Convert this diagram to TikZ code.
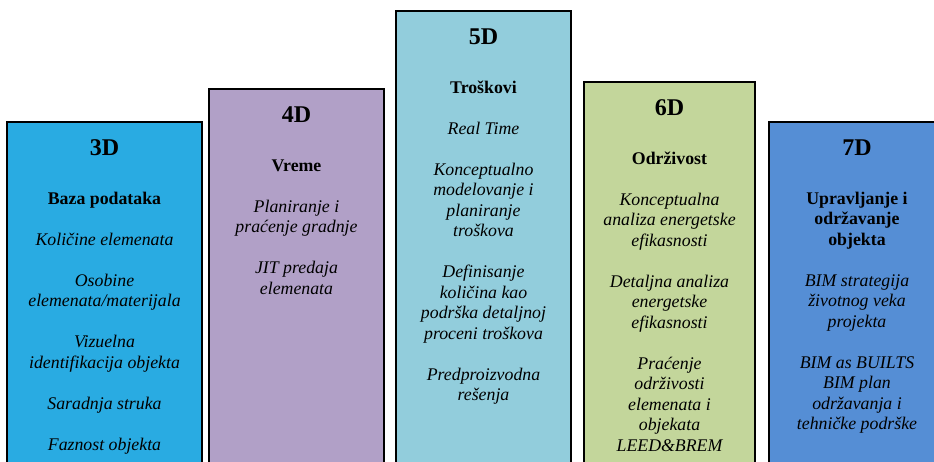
\documentclass[tikz,border=0pt]{standalone}
\usepackage{fontspec}
\setmainfont{Liberation Serif}
\definecolor{cthree}{HTML}{29ABE2}
\definecolor{cfour}{HTML}{B1A0C7}
\definecolor{cfive}{HTML}{92CDDC}
\definecolor{csix}{HTML}{C3D69B}
\definecolor{cseven}{HTML}{558ED5}
\newcommand{\gap}{\\[20.5pt]}
\begin{document}
\begin{tikzpicture}[x=1pt,y=-1pt,
  colbox/.style={draw=black,line width=1.3pt},
  hd/.style={anchor=base,inner sep=0pt,font=\fontsize{24}{28}\selectfont\bfseries},
  bd/.style={anchor=base,inner sep=0pt,font=\fontsize{17.8}{20.5}\selectfont}]
\clip (0,0) rectangle (934,461);
\fill[white] (0,0) rectangle (934,461);
% boxes
\path[colbox,fill=cthree] (7,122) rectangle (202,490);
\path[colbox,fill=cfour] (209,89) rectangle (384,490);
\path[colbox,fill=cfive] (396,11) rectangle (571,490);
\path[colbox,fill=csix] (584,82) rectangle (755,490);
\path[colbox,fill=cseven] (769,122) rectangle (945,490);
% 3D
\node[hd] (h3) at (104.5,155) {3D};
\node[bd] (b3) at (104.5,204) {\parbox[t]{190pt}{\centering
  \textbf{Baza podataka}\gap
  \itshape Količine elemenata\gap
  Osobine\\ elemenata/materijala\gap
  Vizuelna\\ identifikacija objekta\gap
  Saradnja struka\gap
  Faznost objekta}};
% 4D
\node[hd] (h4) at (296.5,122) {4D};
\node[bd] (b4) at (296.5,171) {\parbox[t]{170pt}{\centering
  \textbf{Vreme}\gap
  \itshape Planiranje i\\ praćenje gradnje\gap
  JIT predaja\\ elemenata}};
% 5D
\node[hd] (h5) at (483.5,44) {5D};
\node[bd] (b5) at (483.5,93) {\parbox[t]{170pt}{\centering
  \textbf{Troškovi}\gap
  \itshape Real Time\gap
  Konceptualno\\ modelovanje i\\ planiranje\\ troškova\gap
  Definisanje\\ količina kao\\ podrška detaljnoj\\ proceni troškova\gap
  Predproizvodna\\ rešenja}};
% 6D
\node[hd] (h6) at (669.5,115) {6D};
\node[bd] (b6) at (669.5,164) {\parbox[t]{170pt}{\centering
  \textbf{Održivost}\gap
  \itshape Konceptualna\\ analiza energetske\\ efikasnosti\gap
  Detaljna analiza\\ energetske\\ efikasnosti\gap
  Praćenje\\ održivosti\\ elemenata i\\ objekata\\ LEED\&BREM}};
% 7D
\node[hd] (h7) at (857,155) {7D};
\node[bd] (b7) at (857,204) {\parbox[t]{170pt}{\centering
  \textbf{Upravljanje i}\\ \textbf{održavanje}\\ \textbf{objekta}\gap
  \itshape BIM strategija\\ životnog veka\\ projekta\gap
  BIM as BUILTS\\ BIM plan\\ održavanja i\\ tehničke podrške}};
\end{tikzpicture}
\end{document}
